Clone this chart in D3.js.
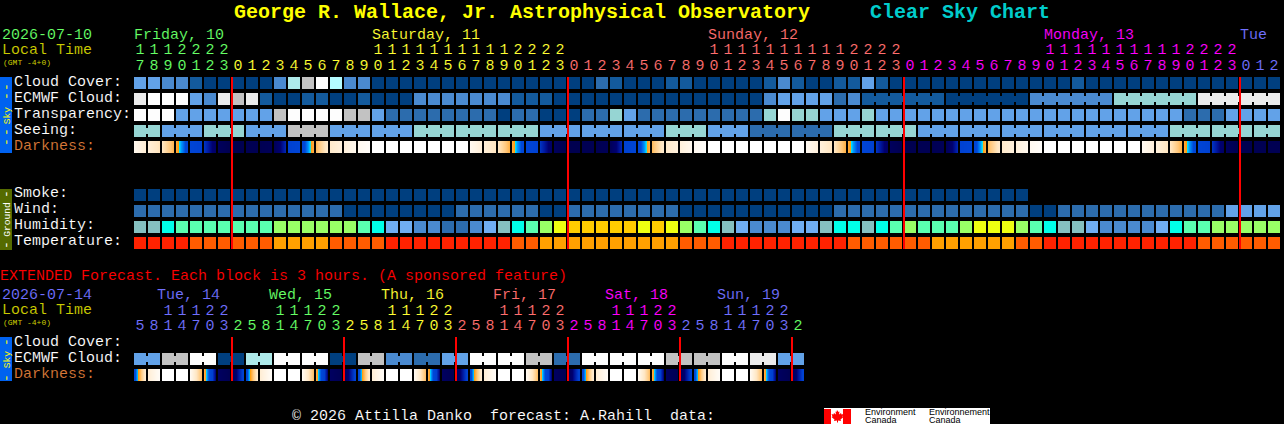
<!DOCTYPE html>
<html>
<head>
<meta charset="utf-8">
<script src="https://cdn.jsdelivr.net/npm/d3@7"></script>
<style>
html,body{margin:0;padding:0;background:#000;overflow:hidden}
svg{display:block}
rect{shape-rendering:crispEdges}
text{font-family:"Liberation Mono",monospace;white-space:pre;stroke:#000;stroke-width:0.1px}
text.strong{stroke:none}
</style>
</head>
<body>
<svg id="chart" width="1284" height="424"></svg>
<script>
// ---- data (levels index the cloudColors palette) ----
const cloudCover = [4,4,3,3,1,0,0,0,0,0,3,7,9,11,8,3,3,0,0,0,0,0,0,0,0,0,0,0,0,0,0,0,0,2,1,0,0,0,1,1,0,0,0,0,0,1,3,1,0,0,1,1,4,1,0,0,0,0,0,0,0,0,0,0,0,0,0,1,0,0,0,0,0,0,0,0,0,0,0,0,0,0];
const ecmwfHourly = [10,11,11,11,4,3,10,9,10,1,0,0,1,1,0,0,1,0,0,0,3,3,3,3,3,3,3,1,1,1,0,0,0,0,0,0,0,0,0,0,0,0,0,0,0,3,4,4,4,4,2,3];
const ecmwfTail = [1,0,3,6,10];
const ecmwfTailSpan = 6;
const transparency = [11,11,11,4,4,4,4,4,4,4,9,11,11,11,11,9,9,4,2,2,2,2,2,2,2,2,0,2,2,0,0,0,2,2,6,4,2,2,2,2,2,2,2,2,2,6,11,6,6,4,4,4,6,4,4,4,4,4,4,4,4,4,4,4,4,4,4,4,4,4,4,4,4,4,4,2,2,2,4,4,4,4];
const seeingSpans = [2,3,3,3,3,3,3,3,3,3,3,3,3,3,3,3,3,3,3,3,3,3,3,3,3,3,3,2];
const seeingLevels = [6,4,6,4,9,4,4,6,6,6,4,4,4,6,4,2,2,6,6,4,4,4,4,4,4,6,6,6];
const darkFrom = [0.6,1.3,2.0,3.7,5.4,6.2,7.6,8,7.9,7.9,7.7,5.8,5.4,3.3,1.7,1.2,0.5,0,0,0,0,0,0,0,
  0.5,1.3,2.0,3.7,5.4,6.2,7.6,8,7.9,7.9,7.7,5.8,5.4,3.3,1.7,1.2,0.5,0,0,0,0,0,0,0,
  0.5,1.2,2.0,3.7,5.4,6.2,7.6,8,7.9,7.9,7.7,5.8,5.4,3.3,1.7,1.2,0.5,0,0,0,0,0,0,0,
  0.5,1.2,2.0,3.7,5.4,6.2,7.6,8,7.9,7.9];
const darkTo = [1.4,2.1,3.4,5.3,5.9,7.3,8,8,7.9,7.8,6.4,5.4,3.6,1.7,1.2,0.6,0.2,0,0,0,0,0,0,0,
  1.3,2.0,3.5,5.3,5.9,7.3,8,8,7.9,7.8,6.4,5.4,3.6,1.7,1.2,0.6,0.2,0,0,0,0,0,0,0,
  1.2,2.0,3.5,5.3,5.9,7.3,8,8,7.9,7.8,6.4,5.4,3.6,1.7,1.2,0.6,0.2,0,0,0,0,0,0,0,
  1.2,2.0,3.5,5.3,5.9,7.3,8,8,7.9,7.9];
const smoke = [0,0,0,0,0,0,0,0,0,0,0,0,0,0,0,0,0,0,0,0,0,0,0,0,0,0,0,0,0,0,0,0,0,0,0,0,0,0,0,0,0,0,0,0,0,0,0,0,0,0,0,0,0,0,0,0,0,0,0,0,0,0,0,0];
const wind = [2,2,2,2,2,2,2,2,2,2,2,2,2,2,2,0,0,0,0,0,0,0,0,2,2,2,2,2,2,0,0,2,2,2,2,2,2,2,2,0,0,0,0,0,0,0,0,0,0,0,2,2,2,2,2,2,2,2,2,2,2,2,2,2,0,0,2,2,2,2,2,2,2,2,2,2,2,2,4,4,4,4];
const humidity = [0,0,1,2,2,2,2,2,2,2,3,3,3,3,3,3,2,1,7,7,8,8,9,9,8,7,0,1,2,3,4,5,5,5,5,5,4,5,4,3,2,1,0,7,8,8,8,7,7,0,1,1,0,1,2,3,2,2,2,3,4,4,4,3,2,1,0,0,7,8,8,8,8,7,1,2,2,3,3,3,3,3];
const temperature = [0,0,0,0,1,1,1,1,1,1,2,2,2,2,1,1,1,1,0,0,0,0,0,0,0,0,0,1,1,2,2,2,2,2,2,2,2,2,2,1,1,1,0,0,0,0,0,0,0,0,0,1,1,1,1,1,1,2,2,2,2,2,2,1,1,0,0,0,0,0,0,0,0,0,0,0,1,1,1,1,1,1];

const extEcmwf = [4,9,11,0,7,11,11,0,9,3,2,4,11,11,9,2,11,11,11,9,9,11,10,4];
const extDarkFrom = [5.3,1.4,0,0,0.5,3.6,7.5,7.7,5.3,1.4,0,0,0.5,3.6,7.5,7.7,5.3,1.4,0,0,0.5,3.6,7.5,7.7,5.3,1.4,0,0,0.5,3.6,7.5,7.7,5.3,1.4,0,0,0.5,3.6,7.5,7.7,5.3,1.4,0,0,0.5,3.6,7.5,7.7];
const extDarkTo = [1.6,0.3,0,0,3.2,6.9,7.9,5.8,1.6,0.3,0,0,3.2,6.9,7.9,5.8,1.6,0.3,0,0,3.2,6.9,7.9,5.8,1.6,0.3,0,0,3.2,6.9,7.9,5.8,1.6,0.3,0,0,3.2,6.9,7.9,5.8,1.6,0.3,0,0,3.2,6.9,7.9,5.8];

const hours = [17,18,19,20,21,22,23,0,1,2,3,4,5,6,7,8,9,10,11,12,13,14,15,16,17,18,19,20,21,22,23,0,1,2,3,4,5,6,7,8,9,10,11,12,13,14,15,16,17,18,19,20,21,22,23,0,1,2,3,4,5,6,7,8,9,10,11,12,13,14,15,16,17,18,19,20,21,22,23,0,1,2];
const hourDay = [0,0,0,0,0,0,0,1,1,1,1,1,1,1,1,1,1,1,1,1,1,1,1,1,1,1,1,1,1,1,1,2,2,2,2,2,2,2,2,2,2,2,2,2,2,2,2,2,2,2,2,2,2,2,2,3,3,3,3,3,3,3,3,3,3,3,3,3,3,3,3,3,3,3,3,3,3,3,3,4,4,4];
const dayNames = ["Friday, 10","Saturday, 11","Sunday, 12","Monday, 13","Tue"];
const dayNameCols = [0,17,41,65,79];
const midnightCols = [7,31,55,79];
const extHours = [5,8,11,14,17,20,23,2,5,8,11,14,17,20,23,2,5,8,11,14,17,20,23,2,5,8,11,14,17,20,23,2,5,8,11,14,17,20,23,2,5,8,11,14,17,20,23,2];
const extHourDay = [4,4,4,4,4,4,4,0,0,0,0,0,0,0,0,1,1,1,1,1,1,1,1,2,2,2,2,2,2,2,2,3,3,3,3,3,3,3,3,4,4,4,4,4,4,4,4,0];
const extDayNames = ["Tue, 14","Wed, 15","Thu, 16","Fri, 17","Sat, 18","Sun, 19"];
const extDayCols = [1.65,9.65,17.65,25.65,33.65,41.65];
const extDayColorIdx = [4,0,1,2,3,4];
const extMidnightCols = [7,15,23,31,39,47];

// ---- palettes ----
const dayColors = ["#66ff66","#ffff33","#ff6e6e","#ff00ff","#7070ff"];
const cloudColors = ["#003f7f","#135a9c","#2c6cad","#4a8ad0","#62a2e8","#70aef2","#96d5d3","#aeeaea","#b4fcff","#c2c2c2","#ebebeb","#fdfdfd"];
const humidityColors = ["#85c0c0","#00ffe8","#5affb0","#99ff66","#eeff11","#ffcc00","#2c6cad","#70aef2","#4a8ad0","#2c6cad"];
const tempColors = ["#ff2200","#ff5c00","#ffa000"];
const darkScale = d3.scaleLinear()
  .domain([0,1,2,3,3.9,4.02,4.1,4.4,5,6,6.6,7,8])
  .range(["#ffffff","#fff3e2","#ffe6c2","#ffc87c","#ffa020","#ffa000","#00e8ff","#0099ff","#0048d8","#0040d0","#0018a0","#000070","#000050"])
  .clamp(true);

// ---- layout scales ----
const svg = d3.select("#chart");
svg.append("rect").attr("width",1284).attr("height",424).attr("fill","#000");
const n = hours.length;
const xBand = d3.scaleBand().domain(d3.range(n)).range([134,134+14*n-2]).paddingInner(1/7).paddingOuter(0);
const xeBand = d3.scaleBand().domain(d3.range(extHours.length)).range([134,134+14*extHours.length-2]).paddingInner(1/7).paddingOuter(0);
const x = i => Math.round(xBand(i));
const xe = i => Math.round(xeBand(i));
const cw = Math.round(xBand.bandwidth());
function label(t,px,py,size,fill,weight){
  const s = svg.append("text").attr("x",px).attr("y",py).text(t)
    .attr("font-size",size).attr("fill",fill).attr("font-weight",weight||"normal");
  if(weight) s.classed("strong",true);
  return s;
}
function digits(vals,sc,y,fn,colorIdx){
  svg.append("g").selectAll("text").data(vals.map((h,i)=>({h,i})).filter(d=>fn(d.h)!=="")).join("text")
    .attr("x",d=>sc(d.i)+cw/2).attr("y",y).attr("text-anchor","middle")
    .text(d=>fn(d.h)).attr("font-size",15).attr("fill",d=>dayColors[colorIdx[d.i]]);
}
function cellRow(vals,y,colors,sc){
  svg.append("g").selectAll("rect").data(vals).join("rect")
    .attr("x",(d,i)=>sc(i)).attr("y",y).attr("width",cw).attr("height",12)
    .attr("fill",d=>colors[d]);
}
function spanRow(levels,spans,y,colors,sc,startCol){
  let col = startCol||0;
  const g = svg.append("g");
  levels.forEach((lv,k)=>{
    d3.range(spans[k]).forEach(j=>{
      g.append("rect").attr("x",sc(col+j)).attr("y",y).attr("width",cw).attr("height",12).attr("fill",colors[lv]);
      if(j<spans[k]-1) g.append("rect").attr("x",sc(col+j)+cw).attr("y",y+3).attr("width",2).attr("height",6).attr("fill",colors[lv]);
    });
    col += spans[k];
  });
}
function darkRow(from,to,y,sc){
  const g = svg.append("g");
  from.forEach((f,i)=>{
    const t = d3.scaleLinear().domain([0,cw-1]).range([f,to[i]]);
    d3.range(cw).forEach(p=>{
      g.append("rect").attr("x",sc(i)+p).attr("y",y).attr("width",1).attr("height",12).attr("fill",darkScale(t(p)));
    });
  });
}
function sidebar(y0,y1,fill,textFill,name,nameCenter,dashes){
  svg.append("rect").attr("x",0).attr("y",y0).attr("width",12).attr("height",y1-y0).attr("fill",fill);
  svg.append("text").attr("transform",`translate(10,${nameCenter}) rotate(-90)`).attr("text-anchor","middle")
    .text(name).attr("font-size",9.6).attr("fill",textFill).style("stroke","none");
  dashes.forEach(d=>{
    svg.append("text").attr("transform",`translate(10,${d}) rotate(-90)`).attr("text-anchor","middle")
      .text("-").attr("font-size",13).attr("fill",textFill).style("stroke","none");
  });
}

// ---- title ----
label("George R. Wallace, Jr. Astrophysical Observatory",234,18,20,"#ffff00","bold");
label("Clear Sky Chart",870,18,20,"#00cccc","bold");

// ---- main header ----
label("2026-07-10",2,39,15,"#66ff66");
label("Local Time",2,54,15,"#cccc00");
label("(GMT -4+0)",3,65,8,"#cccc00").classed("strong",true);
dayNames.forEach((d,i)=>label(d,x(dayNameCols[i]),39,15,dayColors[i]));
digits(hours,x,54,h=>h>=10?Math.floor(h/10):"",hourDay);
digits(hours,x,69.5,h=>h%10,hourDay);

// ---- row labels ----
[["Cloud Cover:",86],["ECMWF Cloud:",102],["Transparency:",118],["Seeing:",134],["Smoke:",197],["Wind:",213],["Humidity:",229],["Temperature:",245]]
  .forEach(r=>label(r[0],14,r[1],15,"#ffffff"));
label("Darkness:",14,150,15,"#d87838");

// ---- main rows ----
cellRow(cloudCover,77,cloudColors,x);
cellRow(ecmwfHourly,93,cloudColors,x);
spanRow(ecmwfTail,ecmwfTail.map(()=>ecmwfTailSpan),93,cloudColors,x,ecmwfHourly.length);
cellRow(transparency,109,cloudColors,x);
spanRow(seeingLevels,seeingSpans,125,cloudColors,x);
darkRow(darkFrom,darkTo,141,x);
cellRow(smoke,189,cloudColors,x);
cellRow(wind,205,cloudColors,x);
cellRow(humidity,221,humidityColors,x);
cellRow(temperature,237,tempColors,x);
midnightCols.forEach(c=>svg.append("rect").attr("x",x(c)-1).attr("y",77).attr("width",2).attr("height",172).attr("fill","#ff0000"));

sidebar(77,153,"#0062f0","#ffff00","Sky",115.5,[87,96,132,142]);
sidebar(189,250,"#556b00","#ffffff","Ground",219.5,[194,245]);

// ---- extended section ----
label("EXTENDED Forecast. Each block is 3 hours. (A sponsored feature)",0,280,15,"#ff0000");
label("2026-07-14",2,299,15,"#7070ff");
label("Local Time",2,314,15,"#cccc00");
label("(GMT -4+0)",3,325,8,"#cccc00").classed("strong",true);
extDayNames.forEach((d,i)=>label(d,xe(0)+14*extDayCols[i],299,15,dayColors[extDayColorIdx[i]]));
digits(extHours,xe,329.5,h=>h%10,extHourDay);
digits(extHours,xe,314.5,h=>h>=10?Math.floor(h/10):"",extHourDay);
label("Cloud Cover:",14,346,15,"#ffffff");
label("ECMWF Cloud:",14,362,15,"#ffffff");
label("Darkness:",14,378,15,"#d87838");
spanRow(extEcmwf,extEcmwf.map(()=>2),353,cloudColors,xe);
darkRow(extDarkFrom,extDarkTo,369,xe);
extMidnightCols.forEach(c=>svg.append("rect").attr("x",xe(c)-1).attr("y",337).attr("width",2).attr("height",44).attr("fill","#ff0000"));
sidebar(337,381,"#0062f0","#ffff00","Sky",359.5,[342,378]);

// ---- footer ----
label("\u00a9 2026 Attilla Danko  forecast: A.Rahill  data:",292,420,15,"#ffffff");
svg.append("rect").attr("x",824).attr("y",408).attr("width",166).attr("height",16).attr("fill","#ffffff");
svg.append("rect").attr("x",824).attr("y",409).attr("width",7).attr("height",15).attr("fill","#ff0000");
svg.append("rect").attr("x",843).attr("y",409).attr("width",8).attr("height",15).attr("fill","#ff0000");
svg.append("path").attr("d","M837 410l1.5 2 1-.5-.5 3 2-1.5.5 1.5 2-.5-1 2.5 1 .5-3 2.5.5 1.5-3-.5v2h-1v-2l-3 .5.5-1.5-3-2.5 1-.5-1-2.5 2 .5.5-1.5 2 1.5-.5-3 1 .5z").attr("fill","#ff0000");
[["Environment",865,415],["Canada",865,423],["Environnement",929,415],["Canada",929,423]].forEach(r=>{
  svg.append("text").attr("x",r[1]).attr("y",r[2]).text(r[0]).attr("font-size",9).attr("fill","#000")
    .style("font-family","'Liberation Sans',sans-serif").style("stroke","none");
});
</script>
</body>
</html>
